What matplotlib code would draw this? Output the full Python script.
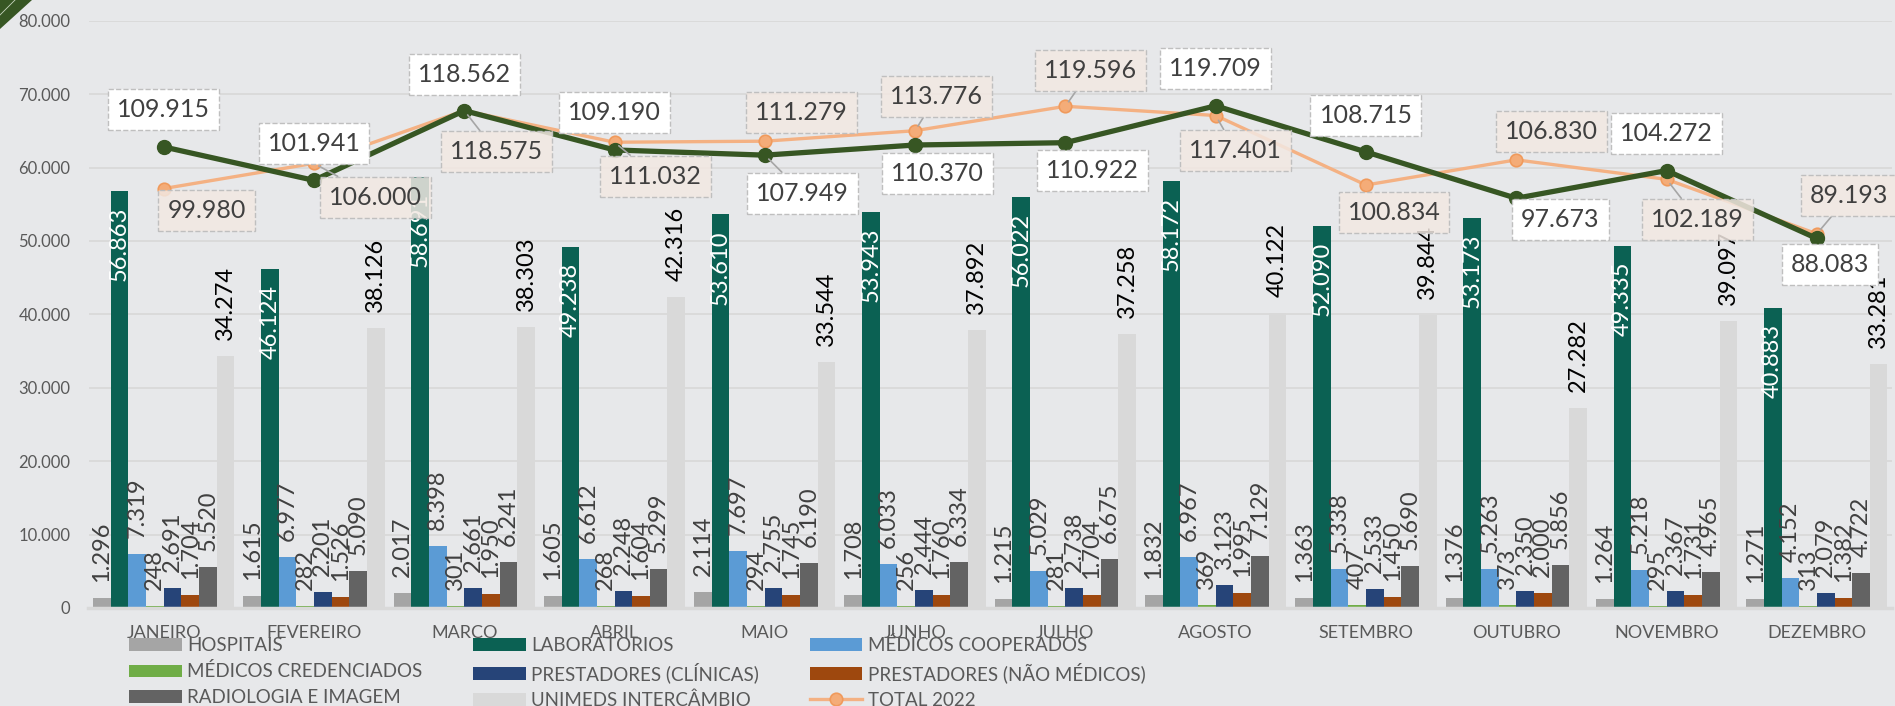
import matplotlib.pyplot as plt
import numpy as np
from matplotlib.patches import Polygon
from matplotlib.lines import Line2D

plt.rcParams['font.family'] = ['Lato', 'DejaVu Sans']

months = ['JANEIRO', 'FEVEREIRO', 'MARCO', 'ABRIL', 'MAIO', 'JUNHO', 'JULHO',
          'AGOSTO', 'SETEMBRO', 'OUTUBRO', 'NOVEMBRO', 'DEZEMBRO']

hospitais = [1296, 1615, 2017, 1605, 2114, 1708, 1215, 1832, 1363, 1376, 1264, 1271]
laboratorios = [56863, 46124, 58691, 49238, 53610, 53943, 56022, 58172, 52090, 53173, 49335, 40883]
medicos_coop = [7319, 6977, 8398, 6612, 7697, 6033, 5029, 6967, 5338, 5263, 5218, 4152]
medicos_cred = [248, 282, 301, 268, 294, 256, 281, 369, 407, 373, 295, 313]
prest_clinicas = [2691, 2201, 2661, 2248, 2755, 2444, 2738, 3123, 2533, 2350, 2367, 2079]
prest_nao_medicos = [1704, 1526, 1950, 1604, 1745, 1760, 1704, 1995, 1450, 2000, 1731, 1382]
radiologia = [5520, 5090, 6241, 5299, 6190, 6334, 6675, 7129, 5690, 5856, 4965, 4722]
unimeds = [34274, 38126, 38303, 42316, 33544, 37892, 37258, 40122, 39844, 27282, 39097, 33281]

total_2022 = [99980, 106000, 118575, 111032, 111279, 113776, 119596, 117401, 100834, 106830, 102189, 89193]
total_2023 = [109915, 101941, 118562, 109190, 107949, 110370, 110922, 119709, 108715, 97673, 104272, 88083]

series = [
    ('HOSPITAIS', hospitais, '#A5A5A5'),
    ('LABORATORIOS', laboratorios, '#0B6153'),
    ('MÉDICOS COOPERADOS', medicos_coop, '#5B9BD5'),
    ('MÉDICOS CREDENCIADOS', medicos_cred, '#70AD47'),
    ('PRESTADORES (CLÍNICAS)', prest_clinicas, '#264478'),
    ('PRESTADORES (NÃO MÉDICOS)', prest_nao_medicos, '#9E480E'),
    ('RADIOLOGIA E IMAGEM', radiologia, '#636363'),
    ('UNIMEDS INTERCÂMBIO', unimeds, '#D9D9D9'),
]

# label offsets in pixels (dx, dy) and whether a leader line is drawn
off_2023 = [(0, 37), (0, 37), (0, 36), (0, 37), (38, -38), (22, -29),
            (27, -28), (0, 37), (0, 36), (44, -21), (0, 37), (13, -26)]
lead_2023 = [False, False, False, False, True, False, False, False, False, False, False, False]
off_2022 = [(43, -22), (62, -34), (32, -41), (41, -34), (37, 29), (21, 34),
            (25, 36), (20, -35), (28, -27), (35, 28), (31, -40), (32, 38)]
lead_2022 = [False, True, True, True, False, True, True, True, False, False, True, True]


def fmt(v):
    return f'{v:,}'.replace(',', '.')


bg = '#E7E8EA'
fig = plt.figure(figsize=(18.95, 7.06), dpi=100, facecolor=bg)
ax = fig.add_axes([88.5 / 1895, 98 / 706, (1892 - 88.5) / 1895, (608 - 20.7) / 706])
ax.set_facecolor(bg)

x = np.arange(len(months))
w = 0.94 / 8
bar_handles = []
for i, (name, vals, col) in enumerate(series):
    pos = x + (i - 3.5) * w
    bars = ax.bar(pos, vals, w, color=col, label=name, zorder=2)
    bar_handles.append(bars)
    for px, v in zip(pos, vals):
        if name == 'LABORATORIOS':
            ax.annotate(fmt(v), (px, v), xytext=(0, -16), textcoords='offset pixels',
                        rotation=90, ha='center', va='top', fontsize=17,
                        color='white', zorder=3)
        else:
            ax.annotate(fmt(v), (px, v), xytext=(0, 16), textcoords='offset pixels',
                        rotation=90, ha='center', va='bottom', fontsize=17,
                        color='black' if name.startswith('UNIMEDS') else '#404040',
                        zorder=3)

ax.set_xlim(-0.5, len(months) - 0.5)
ax.set_ylim(0, 80000)
ax.set_yticks(np.arange(0, 80001, 10000))
ax.set_yticklabels([fmt(v) for v in range(0, 80001, 10000)])
ax.set_xticks(x)
ax.set_xticklabels(months)
ax.tick_params(length=0, colors='#595959')
ax.tick_params(axis='y', pad=13, labelsize=12)
ax.tick_params(axis='x', pad=12, labelsize=13)
ax.grid(axis='y', color='#D9D9D9', lw=1.3, zorder=0)
ax.set_axisbelow(True)
for s in ['top', 'right', 'left']:
    ax.spines[s].set_visible(False)
ax.spines['bottom'].set_color('#D9D9D9')
ax.spines['bottom'].set_linewidth(2.5)

# totals on a hidden secondary axis
ax2 = ax.twinx()
ax2.set_ylim(0, 140000)
ax2.axis('off')
l22, = ax2.plot(x, total_2022, color='#F4B183', lw=2.4, marker='o', ms=9,
                mfc='#F4AC78', mec='#F09A5C', mew=1.2, label='TOTAL 2022', zorder=3)
l23, = ax2.plot(x, total_2023, color='#375623', lw=3.8, marker='o', ms=10,
                label='TOTAL 2023', zorder=4)

box_font = 18
for xi, v, (dx, dy), lead in zip(x, total_2023, off_2023, lead_2023):
    ap = dict(arrowstyle='-', color='#A6A6A6', lw=1.2, shrinkA=0, shrinkB=4) if lead else None
    ax2.annotate(fmt(v), (xi, v), xytext=(dx, dy), textcoords='offset pixels',
                 ha='center', va='center', fontsize=box_font, color='#404040', zorder=6,
                 bbox=dict(boxstyle='square,pad=0.36', fc='white', ec='#BFBFBF', ls='--', lw=1),
                 arrowprops=ap)
for xi, v, (dx, dy), lead in zip(x, total_2022, off_2022, lead_2022):
    ap = dict(arrowstyle='-', color='#A6A6A6', lw=1.2, shrinkA=0, shrinkB=4) if lead else None
    ax2.annotate(fmt(v), (xi, v), xytext=(dx, dy), textcoords='offset pixels',
                 ha='center', va='center', fontsize=box_font, color='#404040', zorder=5,
                 bbox=dict(boxstyle='square,pad=0.36', fc=(0.95, 0.91, 0.885, 0.85),
                           ec='#BFBFBF', ls='--', lw=1),
                 arrowprops=ap)

# legend, filled column by column so rows read like the original
h = bar_handles
handles = [h[0], h[3], h[6], l23, h[1], h[4], h[7], h[2], h[5], l22]
labels = [hd.get_label() for hd in handles]
fig.legend(handles, labels, ncol=3, loc='upper left',
           bbox_to_anchor=(129 / 1895, 1 - 636 / 706), frameon=False,
           fontsize=13.5, labelcolor='#595959', handlelength=2.8, handleheight=0.65,
           handletextpad=0.3, columnspacing=2.7, labelspacing=0.45,
           borderpad=0, borderaxespad=0)

# corner decoration
fig.add_artist(Polygon([[0, 1], [32 / 1895, 1], [0, 1 - 29 / 706]], closed=True,
                       transform=fig.transFigure, fc='#375623', ec='none'))
fig.add_artist(Line2D([0, 15 / 1895], [1 - 15 / 706, 1], transform=fig.transFigure,
                      color='#C9D6C0', lw=0.6))

fig.savefig('out.png', dpi=100, facecolor=bg)
